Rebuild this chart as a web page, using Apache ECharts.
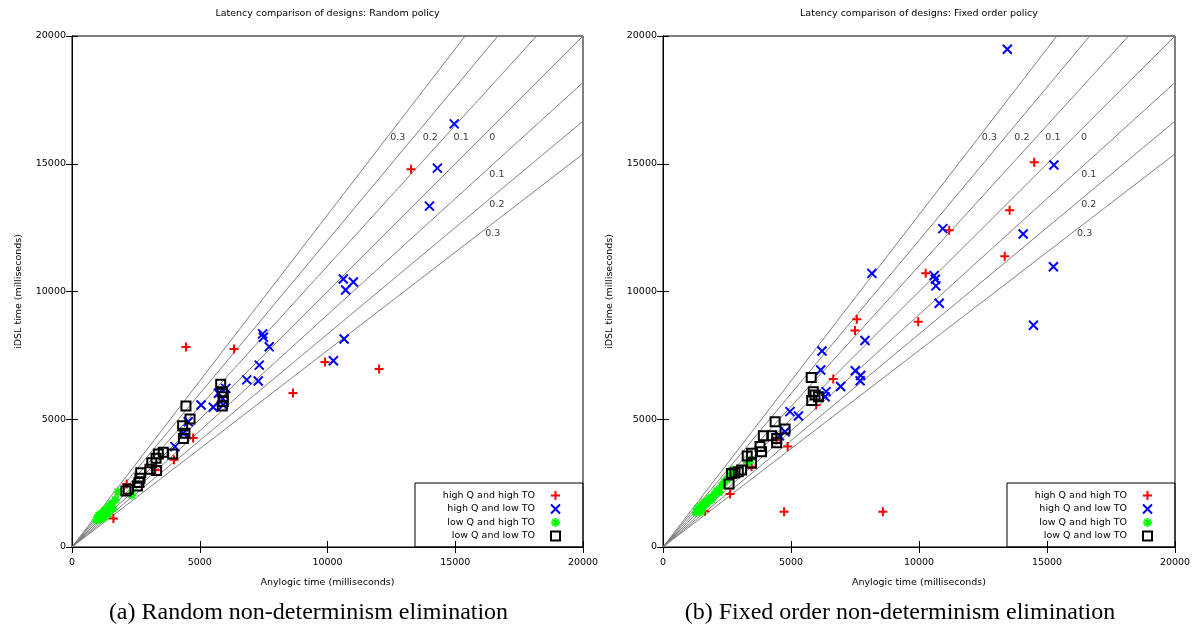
<!DOCTYPE html>
<html><head><meta charset="utf-8">
<script src="https://cdn.jsdelivr.net/npm/echarts@6/dist/echarts.min.js"></script>
<style>html,body{margin:0;padding:0;background:#fff}#c{width:1195px;height:628px}</style>
</head><body><div id="c"></div>
<script>
// ---------- data ----------
const seriesNames = ['high Q and high TO','high Q and low TO','low Q and high TO','low Q and low TO'];
const chartTitles = ['Latency comparison of designs: Random policy','Latency comparison of designs: Fixed order policy'];
const captions = ['(a) Random non-determinism elimination','(b) Fixed order non-determinism elimination'];
const xName = 'Anylogic time (milliseconds)';
const yName = 'iDSL time (milliseconds)';
const tickValues = [0,5000,10000,15000,20000];
const lineSlopes = [1.3,1.2,1.1,1,1/1.1,1/1.2,1/1.3];
const lineLabels = ['0.3','0.2','0.1','0','0.1','0.2','0.3'];
const lineLabelX = [12750,14020,15230,16450,16630,16630,16470];
const lineLabelY = [16020,16020,16020,16020,14570,13400,12250];

const leftHighQHighTO = [[4460,7830],[6340,7750],[13270,14780],[8650,6030],[9900,7240],[12020,6970],[4740,4270],[3990,3410],[1620,1120],[3260,3010],[2140,2470]];
const leftHighQLowTO = [[14960,16560],[14300,14830],[13990,13340],[10620,10490],[11010,10370],[10710,10060],[10650,8140],[10230,7290],[7460,8340],[7490,8210],[7720,7840],[7330,7120],[6840,6540],[7290,6500],[5050,5560],[5530,5470],[6020,6210],[5920,5560],[4550,4900],[4360,4450],[4030,3930],[5730,6020],[5900,5800]];
const leftLowQHighTO = [[950,1050],[1000,1150],[1050,1250],[1100,1100],[1150,1300],[1200,1200],[1250,1400],[1300,1350],[1350,1500],[1400,1450],[1450,1600],[1500,1550],[1550,1700],[1600,1500],[1700,1850],[1800,2150],[2340,2040],[1250,1150],[1400,1300]];
const leftLowQLowTO = [[5820,6370],[5880,6080],[5920,5880],[5920,5690],[5880,5520],[4460,5520],[4620,5010],[4330,4750],[4420,4450],[4360,4250],[3940,3640],[3570,3710],[3380,3640],[3290,3470],[3120,3300],[3050,3040],[3310,2990],[2690,2910],[2660,2690],[2620,2520],[2560,2390],[2200,2260],[2110,2190]];

const rightHighQHighTO = [[14500,15060],[13540,13180],[13350,11380],[11180,12400],[10260,10710],[7570,8910],[7500,8470],[9970,8820],[6650,6580],[2620,2070],[4730,1380],[8590,1380],[4870,3930],[5980,5560],[3460,3140],[4440,4190],[1640,1400]];
const rightHighQLowTO = [[13450,19480],[15270,14950],[14070,12250],[15250,10970],[14470,8680],[10930,12460],[10590,10620],[10640,10480],[10660,10220],[10790,9540],[8160,10710],[7890,8080],[6210,7670],[6160,6930],[7510,6900],[7720,6710],[7700,6510],[6940,6280],[6370,6080],[6330,5880],[4960,5300],[5290,5130],[4770,4510],[4550,4350]];
const rightLowQHighTO = [[1300,1350],[1350,1500],[1400,1400],[1450,1600],[1550,1550],[1600,1750],[1700,1700],[1800,1900],[1900,1850],[2000,2050],[2100,2200],[2200,2150],[2300,2400],[2400,2550],[2500,2650],[2600,2800],[2700,3000],[2800,2900],[3300,3300],[3400,3400],[1500,1400]];
const rightLowQLowTO = [[5790,6630],[5870,6080],[5940,5950],[6070,5880],[5810,5730],[4380,4900],[4770,4620],[3920,4350],[4250,4350],[4440,4250],[4440,4080],[3790,3930],[3850,3730],[3460,3670],[3290,3560],[3460,3280],[3070,3010],[2940,2950],[2810,2910],[2680,2880],[2580,2470]];

// ---------- styling ----------
const FONT = 'DejaVu Sans';
const AXMAX = tickValues[tickValues.length-1];
const symbolDefs = [
  {symbol:'path://M5,0L5,10M0,5L10,5', size:9, color:'#ff0000'},
  {symbol:'path://M0,0L10,10M10,0L0,10', size:9, color:'#0000ff'},
  {symbol:'path://M5,0L5,10M0,5L10,5M1.5,1.5L8.5,8.5M8.5,1.5L1.5,8.5', size:9, color:'#00ff00'},
  {symbol:'rect', size:9, color:'#000000'}
];
const grids = [{left:72, top:36, width:511, height:511},{left:663, top:36, width:512, height:511}];
const dataSets = [
  [leftHighQHighTO, leftHighQLowTO, leftLowQHighTO, leftLowQLowTO],
  [rightHighQHighTO, rightHighQLowTO, rightLowQHighTO, rightLowQLowTO]
];

const xAxes = [], yAxes = [], series = [], legends = [], graphics = [];
grids.forEach((g, gi) => {
  const common = {min:0, max:AXMAX, interval:5000, gridIndex:gi, splitLine:{show:false},
    axisTick:{inside:true, length:6, lineStyle:{color:'#000'}}, axisLine:{show:true, lineStyle:{color:'#000', width:1}}};
  const lab = {fontFamily:FONT, fontSize:9.5, color:'#000', formatter:v=>String(v)};
  xAxes.push(Object.assign({}, common, {type:'value', position:'bottom',
    name:xName, nameLocation:'middle', nameGap:31, nameTextStyle:{fontFamily:FONT, fontSize:9.5, color:'#000'},
    axisLabel:Object.assign({margin:11}, lab)}));
  xAxes.push(Object.assign({}, common, {type:'value', position:'top', axisLabel:{show:false}}));
  yAxes.push(Object.assign({}, common, {type:'value', position:'left',
    name:yName, nameLocation:'middle', nameGap:48, nameTextStyle:{fontFamily:FONT, fontSize:9.5, color:'#000'},
    axisLabel:Object.assign({margin:6}, lab)}));
  yAxes.push(Object.assign({}, common, {type:'value', position:'right', axisLabel:{show:false}}));
  const xi = gi*2, yi = gi*2;
  // reference lines
  lineSlopes.forEach(k => {
    const end = k >= 1 ? [AXMAX/k, AXMAX] : [AXMAX, AXMAX*k];
    series.push({type:'line', xAxisIndex:xi, yAxisIndex:yi, data:[[0,0], end], symbol:'none', silent:true,
      lineStyle:{color:'#808080', width:1}, z:1, animation:false});
  });
  // line labels
  series.push({type:'scatter', xAxisIndex:xi, yAxisIndex:yi, symbolSize:0, silent:true, z:2, animation:false,
    data: lineLabels.map((t,i)=>({name:t, value:[lineLabelX[i], lineLabelY[i]]})),
    label:{show:true, position:'inside', formatter:p=>p.name, fontFamily:FONT, fontSize:9.5, color:'#000'}});
  // points
  dataSets[gi].forEach((d, si) => {
    const s = symbolDefs[si];
    series.push({type:'scatter', name:seriesNames[si], xAxisIndex:xi, yAxisIndex:yi, data:d,
      symbol:s.symbol, symbolSize:s.size, z:3, animation:false,
      itemStyle:{color:'rgba(0,0,0,0)', borderColor:s.color, borderWidth:2, opacity:1}});
  });
  legends.push({orient:'vertical', align:'right', right:1195-(g.left+g.width)+17, top:485,
    itemWidth:9, itemHeight:9, itemGap:2.5, selectedMode:false, data:seriesNames,
    textStyle:{fontFamily:FONT, fontSize:9.5, lineHeight:11, color:'#000', padding:[0,11,0,0]}});
  graphics.push({type:'rect', shape:{x:g.left-168+g.width, y:483, width:168, height:g.top+g.height-483},
    style:{fill:'none', stroke:'#000', lineWidth:1}, z:0, silent:true});
  graphics.push({type:'text', x:g.left+g.width/2, y:14, style:{text:chartTitles[gi], font:'9.5px "'+FONT+'"', fill:'#000', textAlign:'center', textVerticalAlign:'middle'}});
  graphics.push({type:'text', x:g.left+g.width/2 - 19, y:613, style:{text:captions[gi], font:'24px "Liberation Serif"', fill:'#000', textAlign:'center', textVerticalAlign:'middle'}});
});

const chart = echarts.init(document.getElementById('c'), null, {renderer:'canvas'});
chart.setOption({
  animation:false,
  backgroundColor:'#fff',
  grid: grids.map(g=>Object.assign({show:true, borderColor:'#000', borderWidth:1, backgroundColor:'rgba(0,0,0,0)'}, g)),
  xAxis:xAxes, yAxis:yAxes, series:series, legend:legends, graphic:graphics
});
</script></body></html>
